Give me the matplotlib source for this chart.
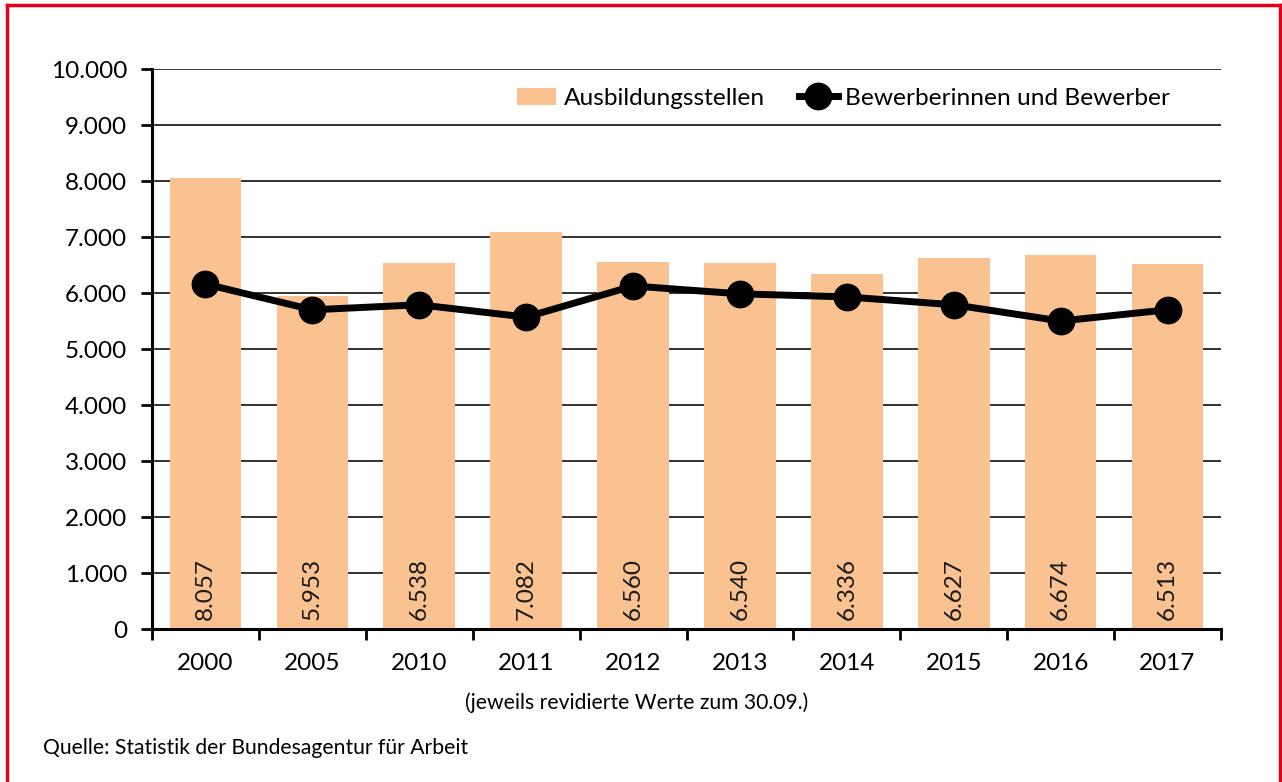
import matplotlib.pyplot as plt
from matplotlib.lines import Line2D
from matplotlib.ticker import FuncFormatter

# data
years = ['2000', '2005', '2010', '2011', '2012', '2013', '2014', '2015', '2016', '2017']
stellen = [8057, 5953, 6538, 7082, 6560, 6540, 6336, 6627, 6674, 6513]
bewerber = [6160, 5700, 5790, 5570, 6125, 5985, 5930, 5790, 5500, 5700]

plt.rcParams['font.family'] = ['Lato', 'DejaVu Sans']

BAR_COLOR = '#F9C290'
RED = '#E2001A'

fig = plt.figure(figsize=(12.82, 7.82), dpi=100)
ax = fig.add_axes([152 / 1282, 153 / 782, 1069 / 1282, 560 / 782])

x = list(range(len(years)))
bars = ax.bar(x, stellen, width=0.67, color=BAR_COLOR, zorder=2, label='Ausbildungsstellen')
line, = ax.plot(x, bewerber, color='black', lw=5, marker='o', markersize=19, zorder=3,
                label='Bewerberinnen und Bewerber')

# value labels inside the bars
for xi, v in zip(x, stellen):
    ax.text(xi, 160, f'{v:,}'.replace(',', '.'), rotation=90, ha='center', va='bottom',
            fontsize=17.5, color='#1a1a1a', zorder=4)

ax.set_xlim(-0.5, len(years) - 0.5)
ax.set_ylim(0, 10000)
ax.set_yticks(range(0, 10001, 1000))
ax.yaxis.set_major_formatter(FuncFormatter(lambda v, p: f'{int(v):,}'.replace(',', '.')))
ax.grid(axis='y', color='#222222', lw=1.3, zorder=0)

ax.set_xticks(x)
ax.set_xticklabels(years)
ax.set_xticks([i - 0.5 for i in range(len(years) + 1)], minor=True)
ax.tick_params(axis='x', which='major', length=0, pad=17, labelsize=17.5)
ax.tick_params(axis='x', which='minor', length=8, width=2, direction='out')
ax.tick_params(axis='y', length=8, width=2, direction='out', pad=10, labelsize=17.5)

for s in ['top', 'right']:
    ax.spines[s].set_visible(False)
for s in ['left', 'bottom']:
    ax.spines[s].set_linewidth(2.2)
    ax.spines[s].set_zorder(5)

ax.legend([bars, line], ['Ausbildungsstellen', 'Bewerberinnen und Bewerber'],
          loc='center', bbox_to_anchor=(0.647, 0.948), ncol=2, frameon=False,
          fontsize=17.6, handlelength=1.6, handletextpad=0.3, columnspacing=1.4)

fig.text(637 / 1282, 1 - 703 / 782, '(jeweils revidierte Werte zum 30.09.)',
         fontsize=15.2, va='center', ha='center')
fig.text(43 / 1282, 1 - 748 / 782, 'Quelle: Statistik der Bundesagentur für Arbeit',
         fontsize=15.2, va='center', ha='left')

# red frame around the figure (open at the bottom)
fig.add_artist(Line2D([7 / 1282, 7 / 1282], [0, 1 - 5 / 782], color=RED, lw=2.5,
                      transform=fig.transFigure))
fig.add_artist(Line2D([7 / 1282, 1280 / 1282], [1 - 5 / 782, 1 - 5 / 782], color=RED, lw=2.5,
                      transform=fig.transFigure))
fig.add_artist(Line2D([1280 / 1282, 1280 / 1282], [0, 1 - 5 / 782], color=RED, lw=2.5,
                      transform=fig.transFigure))

fig.savefig('out.png', dpi=100)
